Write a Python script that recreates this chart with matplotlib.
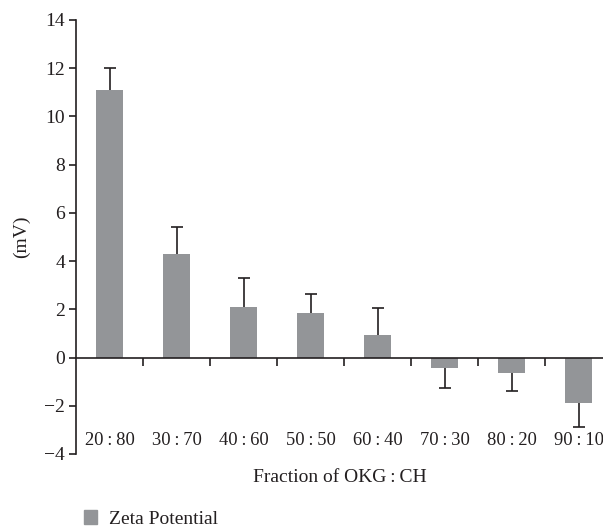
import numpy as np
import matplotlib.pyplot as plt
from matplotlib.transforms import blended_transform_factory
from matplotlib.patches import Patch

# data
fractions = ['20 : 80', '30 : 70', '40 : 60', '50 : 50', '60 : 40', '70 : 30', '80 : 20', '90 : 10']
zeta = [11.1, 4.3, 2.1, 1.84, 0.94, -0.44, -0.64, -1.9]
err = [0.9, 1.1, 1.2, 0.8, 1.1, 0.81, 0.74, 1.0]

plt.rcParams['font.family'] = ['Liberation Serif', 'DejaVu Serif']
txt = '#231f20'
bar_col = '#939598'
fs = 14

fig = plt.figure(figsize=(6.03, 5.30), dpi=100)
ax = fig.add_axes([76/603, 1 - 454/530, 1 - 76/603, (454 - 20)/530])

x = np.arange(len(fractions))
zeta = np.array(zeta)
err = np.array(err)
ax.bar(x, zeta, width=0.4, color=bar_col, zorder=3)

# one-sided error bars, pointing away from zero, cap only at the far end
tips = zeta + np.sign(zeta) * err
ax.vlines(x, zeta, tips, color=txt, lw=1.2, zorder=2)
ax.plot(x, tips, ls='none', marker='_', ms=8, mew=1.2, color=txt, zorder=2)

ax.set_xlim(-0.5, (603 - 76)/67 - 0.5)
ax.set_ylim(-4, 14)
ax.set_yticks(np.arange(-4, 15, 2))
ax.set_yticklabels([str(v).replace('-', '\u2212') for v in range(-4, 15, 2)])

for s in ['top', 'right']:
    ax.spines[s].set_visible(False)
ax.spines['bottom'].set_position(('data', 0))
ax.spines['bottom'].set_color(txt)
ax.spines['left'].set_color(txt)
ax.spines['bottom'].set_linewidth(1.2)
ax.spines['left'].set_linewidth(1.2)
ax.spines['bottom'].set_zorder(4)

# boundary ticks on the zero line, no labels there
ax.set_xticks(np.arange(0.5, len(fractions) - 0.5, 1))
ax.tick_params(axis='x', direction='out', length=6, width=1.2, colors=txt, labelbottom=False)
ax.tick_params(axis='y', direction='out', length=5, width=1.2, colors=txt, labelsize=fs, pad=3)

trans = blended_transform_factory(ax.transData, ax.transAxes)
for i, lab in enumerate(fractions):
    ax.text(i, 0.012, lab.replace(' : ', '\u2009:\u2009'), transform=trans, ha='center', va='bottom',
            fontsize=13.3, color=txt)

ax.set_ylabel('(mV)', fontsize=fs, color=txt, labelpad=10)
fig.text((76 + 603) / 2 / 603, 1 - 478/530, 'Fraction of OKG\u2009:\u2009CH', ha='center', va='center',
         fontsize=fs, color=txt)

fig.legend(handles=[Patch(color=bar_col, label='Zeta Potential')], loc='center left',
           bbox_to_anchor=(66/603, 1 - 519/530), frameon=False, fontsize=fs,
           handlelength=0.7, handleheight=0.7, handletextpad=0.6, labelcolor=txt)

fig.savefig('out.png', dpi=100)
